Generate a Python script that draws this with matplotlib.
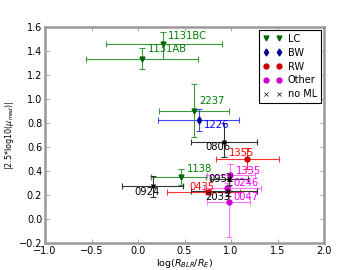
import matplotlib
matplotlib.use("Agg")
import matplotlib.pyplot as plt
from matplotlib.lines import Line2D

# ── data, grouped by class ──
lc_names = ["1131BC", "1131AB", "2237", "1138"]
lc_x = [0.27, 0.04, 0.60, 0.46]
lc_y = [1.46, 1.335, 0.90, 0.35]
lc_xlo = [0.61, 0.60, 0.375, 0.32]
lc_xhi = [0.63, 0.60, 0.375, 0.27]
lc_ylo = [0.13, 0.085, 0.22, 0.07]
lc_yhi = [0.10, 0.09, 0.225, 0.07]

bw_names = ["1226"]
bw_x = [0.655]
bw_y = [0.825]
bw_xlo = [0.44]
bw_xhi = [0.43]
bw_ylo = [0.09]
bw_yhi = [0.09]

rw_names = ["1355", "0435"]
rw_x = [1.17, 0.75]
rw_y = [0.50, 0.225]
rw_xlo = [0.33, 0.44]
rw_xhi = [0.345, 0.35]
rw_ylo = [0.08, 0.02]
rw_yhi = [0.09, 0.02]

ot_names = ["1335", "0246", "0047"]
ot_x = [0.99, 0.96, 0.98]
ot_y = [0.365, 0.26, 0.14]
ot_xlo = [0.25, 0.25, 0.24]
ot_xhi = [0.27, 0.36, 0.22]
ot_ylo = [0.05, 0.04, 0.29]
ot_yhi = [0.09, 0.04, 0.10]

nm_names = ["0806", "0924", "0951", "2033"]
nm_x = [0.92, 0.16, 0.98, 0.97]
nm_y = [0.64, 0.275, 0.33, 0.235]
nm_xlo = [0.35, 0.33, 0.20, 0.40]
nm_xhi = [0.36, 0.32, 0.20, 0.31]
nm_ylo = [0.12, 0.09, 0.05, 0.04]
nm_yhi = [0.16, 0.08, 0.05, 0.04]

# label offsets in pixels
offsets = {
    "1131BC": (5, 8), "1131AB": (6, 10), "2237": (5, 10), "1138": (6, 8),
    "1226": (5, -5), "1355": (-18, 6), "0435": (-18, 5),
    "1335": (6, 4), "0246": (6, 5), "0047": (4, 5),
    "0806": (-18, -5), "0924": (-19, -6), "0951": (-21, 0), "2033": (-23, -6),
}

groups = [
    (lc_names, lc_x, lc_y, lc_xlo, lc_xhi, lc_ylo, lc_yhi, "v", "darkgreen", "#3a9a3a", "green"),
    (bw_names, bw_x, bw_y, bw_xlo, bw_xhi, bw_ylo, bw_yhi, "d", "darkblue", "#4444ff", "blue"),
    (rw_names, rw_x, rw_y, rw_xlo, rw_xhi, rw_ylo, rw_yhi, "o", "#cc0000", "#ff3333", "red"),
    (ot_names, ot_x, ot_y, ot_xlo, ot_xhi, ot_ylo, ot_yhi, "o", "#cc00cc", "#ff77ff", "magenta"),
    (nm_names, nm_x, nm_y, nm_xlo, nm_xhi, nm_ylo, nm_yhi, "x", "black", "#333333", "black"),
]

fig = plt.figure(figsize=(3.6, 2.7), dpi=100)
ax = fig.add_axes([0.125, 0.1, 0.775, 0.8])

for names, x, y, xlo, xhi, ylo, yhi, mk, mc, ec, tc in groups:
    ax.errorbar(x, y, xerr=[xlo, xhi], yerr=[ylo, yhi], fmt=mk, color=mc,
                ecolor=ec, markersize=3.5, elinewidth=0.8, capsize=2, capthick=0.8)
    for n, xi, yi in zip(names, x, y):
        ax.annotate(n, (xi, yi), xytext=offsets[n], textcoords="offset pixels",
                    color=tc, fontsize=7.2, ha="left", va="center")

ax.set_xlim(-1.0, 2.0)
ax.set_ylim(-0.2, 1.6)
ax.set_xticks([-1.0, -0.5, 0.0, 0.5, 1.0, 1.5, 2.0])
ax.set_yticks([-0.2, 0.0, 0.2, 0.4, 0.6, 0.8, 1.0, 1.2, 1.4, 1.6])
ax.tick_params(direction="in", top=True, right=True, length=3, width=0.6,
               color="#999999", labelsize=7, pad=2)
for s in ax.spines.values():
    s.set_color("#999999")
    s.set_linewidth(1.8)

ax.set_xlabel(r"log($R_{BLR}/R_E$)", fontsize=6.8, labelpad=1)
ax.set_ylabel(r"|2.5*log10($\mu_{med}$)|", fontsize=5.8, labelpad=2)

handles = [
    Line2D([], [], ls="", marker="v", color="darkgreen", markersize=3.5),
    Line2D([], [], ls="", marker="d", color="darkblue", markersize=3.5),
    Line2D([], [], ls="", marker="o", color="#cc0000", markersize=3.5),
    Line2D([], [], ls="", marker="o", color="#cc00cc", markersize=3.5),
    Line2D([], [], ls="", marker="x", color="black", markersize=3.5, mew=0.5),
]
leg = ax.legend(handles, ["LC", "BW", "RW", "Other", "no ML"], loc="upper right",
                numpoints=2, fontsize=7, fancybox=False, framealpha=1,
                handlelength=2.0, labelspacing=0.4, borderpad=0.4,
                handletextpad=0.6, borderaxespad=0.3)
leg.get_frame().set_edgecolor("black")
leg.get_frame().set_linewidth(0.8)

fig.savefig("out.png", dpi=100)
